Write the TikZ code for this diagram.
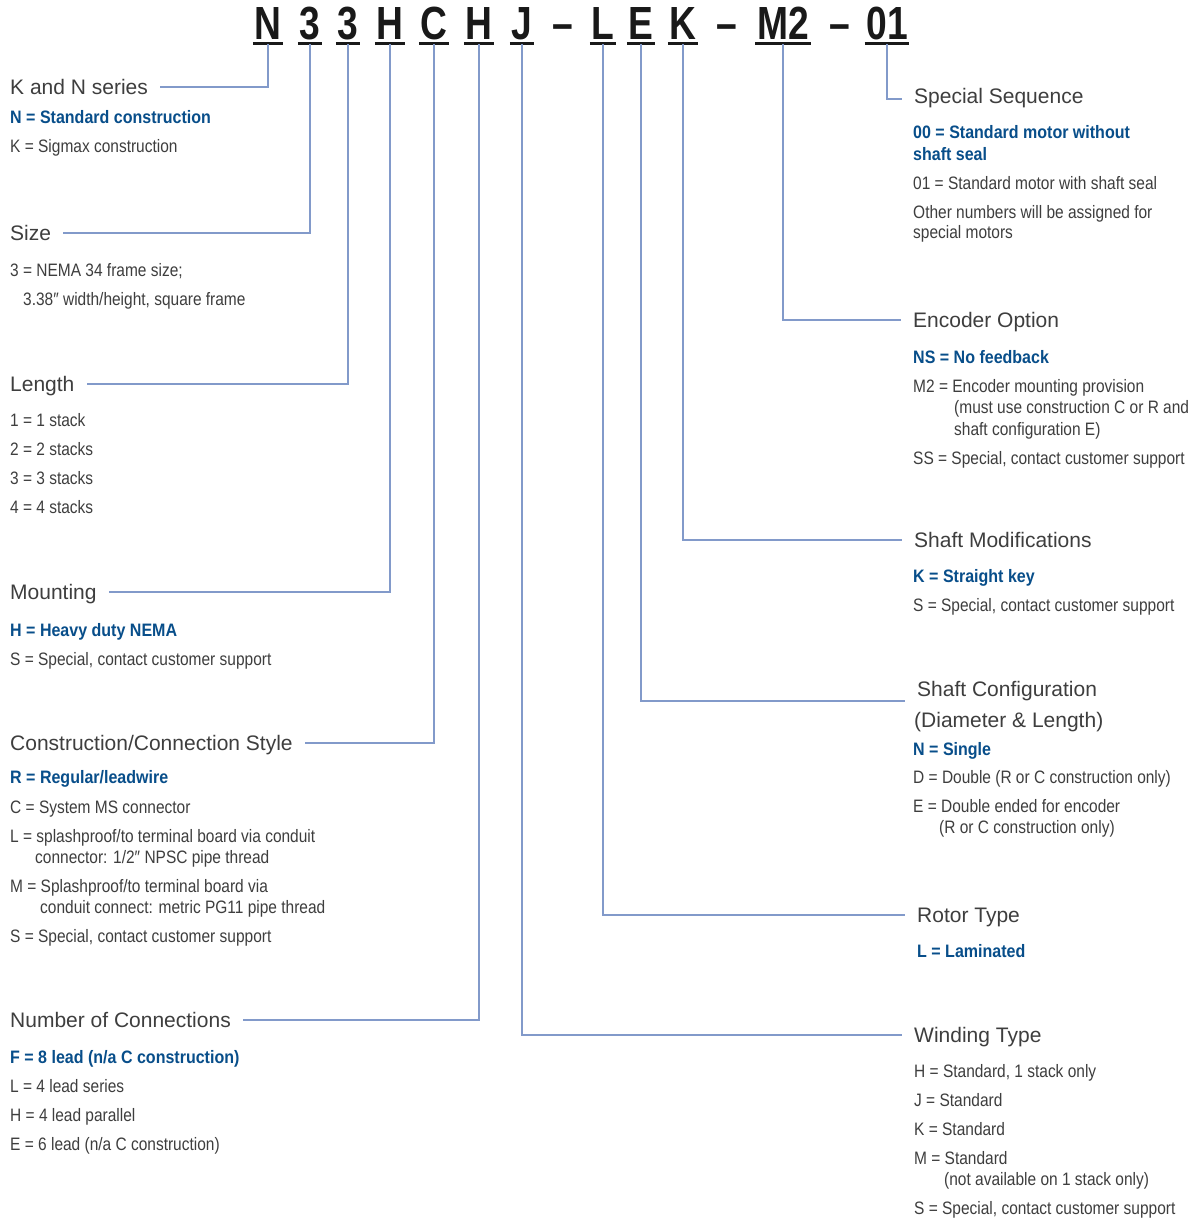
\documentclass[tikz,border=0pt]{standalone}
\usepackage{fontspec}
\newfontfamily\titlef{Liberation Sans}
\newfontfamily\bodyf[FakeStretch=0.86]{Liberation Sans}
\newfontfamily\keyf[FakeStretch=0.89]{Liberation Sans}
\newfontfamily\codef[FakeStretch=0.8]{Liberation Sans}
\definecolor{txt}{RGB}{62,62,62}
\definecolor{keyblue}{RGB}{8,78,138}
\definecolor{conncol}{RGB}{130,154,202}
\tikzset{
  ttl/.style={font=\titlef\fontsize{21pt}{25pt}\selectfont, text=txt, anchor=base west, inner sep=0pt, text height=14pt, text depth=0pt},
  bod/.style={font=\bodyf\fontsize{18pt}{22pt}\selectfont, text=txt, anchor=base west, inner sep=0pt},
  keyl/.style={font=\keyf\bfseries\fontsize{18pt}{22pt}\selectfont, text=keyblue, anchor=base west, inner sep=0pt},
  code/.style={font=\codef\bfseries\fontsize{46.5pt}{50pt}\selectfont, text=black!90, anchor=base, inner xsep=1.5pt, inner ysep=0pt, text depth=5pt},
  uline/.style={draw=black!90, line width=3pt},
  conn/.style={draw=conncol, line width=1.3pt, shorten >=12pt}
}
\begin{document}
\begin{tikzpicture}[x=1pt,y=-1pt]
\fill[white] (0,0) rectangle (1193,1218);
\useasboundingbox (0,0) rectangle (1193,1218);
% code
\node[code] (cN) at (268,39) {N};
\node[code] (c3a) at (310,39) {3};
\node[code] (c3b) at (348,39) {3};
\node[code] (cH1) at (390,39) {H};
\node[code] (cC) at (434,39) {C};
\node[code] (cH2) at (479,39) {H};
\node[code] (cJ) at (522,39) {J};
\node[code] (d1) at (563,39) {–};
\node[code] (cL) at (603,39) {L};
\node[code] (cE) at (641,39) {E};
\node[code] (cK) at (683,39) {K};
\node[code] (d2) at (727,39) {–};
\node[code] (cM) at (783,39) {M2};
\node[code] (d3) at (840,39) {–};
\node[code] (c01) at (887,39) {01};
\foreach \n in {cN,c3a,c3b,cH1,cC,cH2,cJ,cL,cE,cK,cM,c01}
  \draw[uline] ([yshift=1pt]\n.south west) -- ([yshift=1pt]\n.south east);
% left column
\node[ttl] (tKN) at (10,94) {K and N series};
\node[keyl] (kN) at (10,123) {N = Standard construction};
\node[bod] (kK) at (10,152) {K = Sigmax construction};
\node[ttl] (tSize) at (10,240) {Size};
\node[bod] (s1) at (10,276) {3 = NEMA 34 frame size;};
\node[bod] (s2) at (23,305) {3.38″ width/height, square frame};
\node[ttl] (tLen) at (10,391) {Length};
\node[bod] (l1) at (10,426) {1 = 1 stack};
\node[bod] (l2) at (10,455) {2 = 2 stacks};
\node[bod] (l3) at (10,484) {3 = 3 stacks};
\node[bod] (l4) at (10,513) {4 = 4 stacks};
\node[ttl] (tMount) at (10,599) {Mounting};
\node[keyl] (m1) at (10,636) {H = Heavy duty NEMA};
\node[bod] (m2) at (10,665) {S = Special, contact customer support};
\node[ttl] (tCons) at (10,750) {Construction/Connection Style};
\node[keyl] (c1) at (10,783) {R = Regular/leadwire};
\node[bod] (c2) at (10,813) {C = System MS connector};
\node[bod] (c3) at (10,842) {L = splashproof/to terminal board via conduit};
\node[bod] (c3x) at (35,863) {connector: 1/2″ NPSC pipe thread};
\node[bod] (c4) at (10,892) {M = Splashproof/to terminal board via};
\node[bod] (c4x) at (40,913) {conduit connect: metric PG11 pipe thread};
\node[bod] (c5) at (10,942) {S = Special, contact customer support};
\node[ttl] (tNum) at (10,1027) {Number of Connections};
\node[keyl] (n1) at (10,1063) {F = 8 lead (n/a C construction)};
\node[bod] (n2) at (10,1092) {L = 4 lead series};
\node[bod] (n3) at (10,1121) {H = 4 lead parallel};
\node[bod] (n4) at (10,1150) {E = 6 lead (n/a C construction)};
% right column
\node[ttl] (tSeq) at (914,103) {Special Sequence};
\node[keyl] (q1) at (913,138) {00 = Standard motor without};
\node[keyl] (q1x) at (913,160) {shaft seal};
\node[bod] (q2) at (913,189) {01 = Standard motor with shaft seal};
\node[bod] (q3) at (913,218) {Other numbers will be assigned for};
\node[bod] (q3x) at (913,238) {special motors};
\node[ttl] (tEnc) at (913,327) {Encoder Option};
\node[keyl] (e1) at (913,363) {NS = No feedback};
\node[bod] (e2) at (913,392) {M2 = Encoder mounting provision};
\node[bod] (e2x) at (954,413) {(must use construction C or R and};
\node[bod] (e2y) at (954,435) {shaft configuration E)};
\node[bod] (e3) at (913,464) {SS = Special, contact customer support};
\node[ttl] (tSM) at (914,547) {Shaft Modifications};
\node[keyl] (sm1) at (913,582) {K = Straight key};
\node[bod] (sm2) at (913,611) {S = Special, contact customer support};
\node[ttl] (tSC) at (917,696) {Shaft Configuration};
\node[ttl] (tSC2) at (914,727) {(Diameter \& Length)};
\node[keyl] (sc1) at (913,755) {N = Single};
\node[bod] (sc2) at (913,783) {D = Double (R or C construction only)};
\node[bod] (sc3) at (913,812) {E = Double ended for encoder};
\node[bod] (sc3x) at (939,833) {(R or C construction only)};
\node[ttl] (tRot) at (917,922) {Rotor Type};
\node[keyl] (r1) at (917,957) {L = Laminated};
\node[ttl] (tWind) at (914,1042) {Winding Type};
\node[bod] (w1) at (914,1077) {H = Standard, 1 stack only};
\node[bod] (w2) at (914,1106) {J = Standard};
\node[bod] (w3) at (914,1135) {K = Standard};
\node[bod] (w4) at (914,1164) {M = Standard};
\node[bod] (w4x) at (944,1185) {(not available on 1 stack only)};
\node[bod] (w5) at (914,1214) {S = Special, contact customer support};
% connectors
\draw[conn] (cN.south) |- (tKN.east);
\draw[conn] (c3a.south) |- (tSize.east);
\draw[conn] (c3b.south) |- (tLen.east);
\draw[conn] (cH1.south) |- (tMount.east);
\draw[conn] (cC.south) |- (tCons.east);
\draw[conn] (cH2.south) |- (tNum.east);
\draw[conn] (cJ.south) |- (tWind.west);
\draw[conn] (cL.south) |- (tRot.west);
\draw[conn] (cE.south) |- ([yshift=-12pt]tSC.west);
\draw[conn] (cK.south) |- (tSM.west);
\draw[conn] (cM.south) |- (tEnc.west);
\draw[conn] (c01.south) |- ([yshift=-3pt]tSeq.west);
\end{tikzpicture}
\end{document}
